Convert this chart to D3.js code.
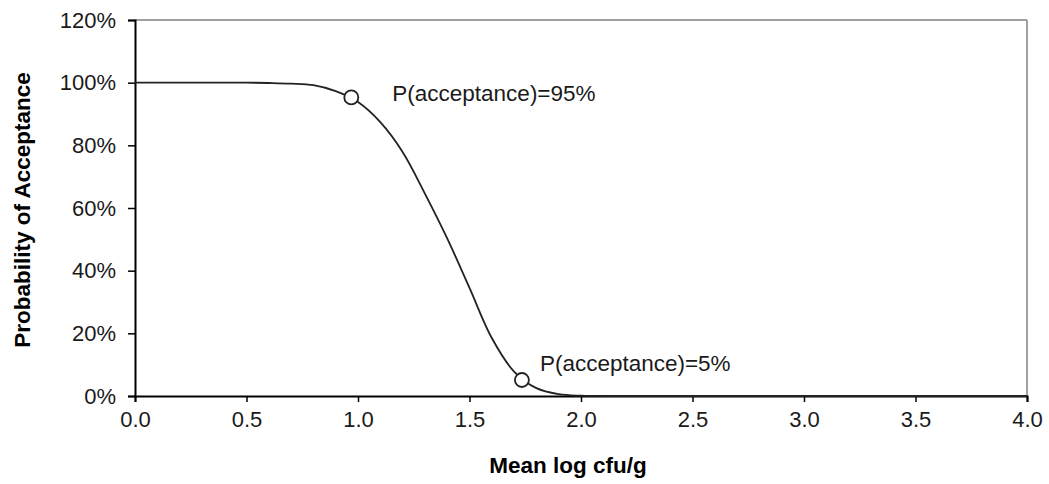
<!DOCTYPE html>
<html>
<head>
<meta charset="utf-8">
<script src="https://cdn.jsdelivr.net/npm/d3@7"></script>
<style>
  body { margin: 0; background: #fff; }
  svg { display: block; font-family: "Liberation Sans", Arial, sans-serif; }
</style>
</head>
<body>
<svg id="chart" width="1049" height="484"></svg>
<script>
// ---- data ----
const meanLog = [0.0, 0.1, 0.2, 0.3, 0.4, 0.5, 0.6, 0.7, 0.8, 0.9, 1.0, 1.1, 1.2, 1.3, 1.4, 1.5, 1.6, 1.7, 1.8, 1.9, 2.0, 2.2, 2.5, 3.0, 3.5, 4.0];
const pAccept = [1.0, 1.0, 1.0, 1.0, 1.0, 1.0, 0.999, 0.997, 0.992, 0.973, 0.938, 0.874, 0.779, 0.646, 0.503, 0.345, 0.185, 0.078, 0.025, 0.006, 0.001, 0, 0, 0, 0, 0];
const markerX = [0.97, 1.735];
const markerY = [0.953, 0.051];
const markerLabels = ["P(acceptance)=95%", "P(acceptance)=5%"];
const xTicks = [0, 0.5, 1.0, 1.5, 2.0, 2.5, 3.0, 3.5, 4.0];
const yTicks = [0, 0.2, 0.4, 0.6, 0.8, 1.0, 1.2];
const xTitle = "Mean log cfu/g";
const yTitle = "Probability of Acceptance";

// ---- layout ----
const svg = d3.select("#chart");
const mLeft = 135, mRight = 1027, mTop = 20, mBottom = 396;
const x = d3.scaleLinear().domain([0, 4]).range([mLeft, mRight]);
const y = d3.scaleLinear().domain([0, 1.2]).range([mBottom, mTop]);

// frame (top and right, grey)
svg.append("line").attr("x1", mLeft).attr("x2", mRight).attr("y1", mTop).attr("y2", mTop)
  .attr("stroke", "#a0a0a0").attr("stroke-width", 2);
svg.append("line").attr("x1", mRight).attr("x2", mRight).attr("y1", mTop).attr("y2", mBottom)
  .attr("stroke", "#a0a0a0").attr("stroke-width", 2);

// axes
const xAxis = svg.append("g").attr("transform", `translate(0,${mBottom})`)
  .call(d3.axisBottom(x).tickValues(xTicks).tickFormat(d3.format(".1f")).tickSize(6).tickPadding(9));
const yAxis = svg.append("g").attr("transform", `translate(${mLeft},0)`)
  .call(d3.axisLeft(y).tickValues(yTicks).tickFormat(d3.format(".0%")).tickSize(7).tickPadding(12));
[xAxis, yAxis].forEach(g => {
  g.select(".domain").attr("stroke", "#000").attr("stroke-width", 2);
  g.selectAll(".tick line").attr("stroke", "#000").attr("stroke-width", 1.5);
  g.selectAll(".tick text").attr("fill", "#1a1a1a")
    .style("font-family", '"Liberation Sans", Arial, sans-serif').style("font-size", "22px");
});

// curve
const pts = meanLog.map((d, i) => [d, pAccept[i]]);
svg.append("path").datum(pts)
  .attr("fill", "none").attr("stroke", "#222").attr("stroke-width", 1.8)
  .attr("d", d3.line().x(d => x(d[0])).y(d => y(Math.max(0, d[1]))).curve(d3.curveCatmullRom.alpha(0.5)));

// markers
const mk = markerX.map((d, i) => ({ x: d, y: markerY[i], label: markerLabels[i] }));
svg.selectAll("circle.mk").data(mk).join("circle").attr("class", "mk")
  .attr("cx", d => x(d.x)).attr("cy", d => y(d.y)).attr("r", 7)
  .attr("fill", "#fff").attr("stroke", "#222").attr("stroke-width", 1.8);

const labelOffsets = [[41, -4], [18, -17]];
svg.selectAll("text.mk").data(mk).join("text").attr("class", "mk")
  .attr("x", (d, i) => x(d.x) + labelOffsets[i][0])
  .attr("y", (d, i) => y(d.y) + labelOffsets[i][1])
  .attr("dy", "0.35em")
  .attr("font-size", 22.5).attr("fill", "#1a1a1a")
  .text(d => d.label);

// titles
svg.append("text").attr("x", 568).attr("y", 465).attr("dy", "0.35em")
  .attr("text-anchor", "middle").attr("font-weight", "bold").attr("font-size", 22.5)
  .attr("fill", "#000").text(xTitle);
svg.append("text").attr("transform", "translate(22,210) rotate(-90)").attr("dy", "0.35em")
  .attr("text-anchor", "middle").attr("font-weight", "bold").attr("font-size", 22.5)
  .attr("fill", "#000").text(yTitle);
</script>
</body>
</html>
